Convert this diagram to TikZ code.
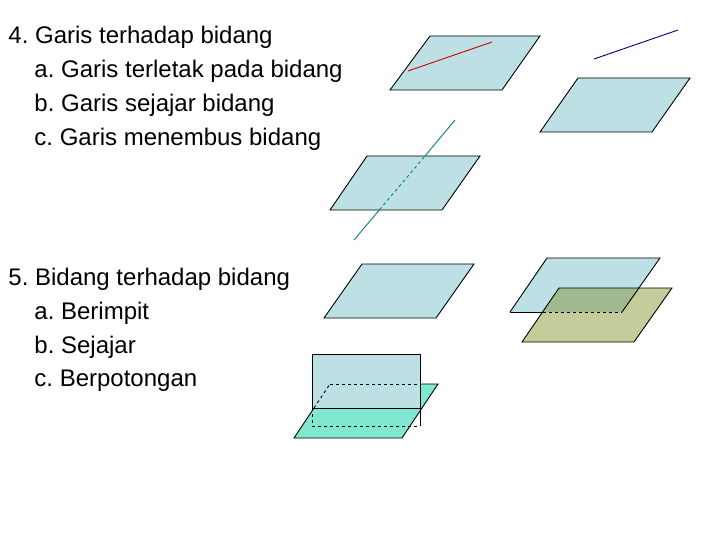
\documentclass[tikz,border=0pt]{standalone}
\usepackage{fontspec}
\setmainfont{Liberation Sans}
\usetikzlibrary{positioning}
\definecolor{bidang}{HTML}{BCE0E4}
\definecolor{zaitun}{HTML}{C4CC9C}
\definecolor{irisan}{HTML}{A0BA90}
\definecolor{toska}{HTML}{80E8D0}
\tikzset{plane/.style={draw,fill=bidang},
         item/.style={anchor=west,font=\fontsize{24}{28}\selectfont\frenchspacing,inner sep=0pt}
}
\begin{document}
\begin{tikzpicture}[x=1pt,y=-1pt,line width=0.9pt]
\useasboundingbox (0,0) rectangle (720,540);

% teks
\node[item] (judula) at (8,37) {4. Garis terhadap bidang};
\node[item] (a1) at (34,71) {a. Garis terletak pada bidang};
\node[item] (b1) at (34,105) {b. Garis sejajar bidang};
\node[item] (c1) at (34,139) {c. Garis menembus bidang};
\node[item] (judulb) at (8,279) {5. Bidang terhadap bidang};
\node[item] (a2) at (34,313) {a. Berimpit};
\node[item] (b2) at (34,347) {b. Sejajar};
\node[item] (c2) at (34,381) {c. Berpotongan};

% garis pada bidang
\draw[plane] (390,90)--(430,36)--(540,36)--(502,90)--cycle;
\draw[red!80!black] (408,71)--(492,42);
% garis sejajar bidang
\draw[plane] (540,132)--(578,78)--(690,78)--(652,132)--cycle;
\draw[blue!50!black] (594,59)--(678,30);
% garis menembus bidang
\draw[plane] (330,210)--(367,156)--(480,156)--(442,210)--cycle;
\draw[teal] (354,240)--(379.6,209.6);
\draw[teal,dashed] (379.6,209.6)--(425,156);
\draw[teal] (425,156)--(455,120);

% berimpit
\draw[plane] (324,318)--(362,264)--(474,264)--(436,318)--cycle;
% sejajar
\draw[plane] (510,312)--(547,258)--(660,258)--(622,312);
\fill[zaitun] (522,342)--(559,288)--(672,288)--(634,342)--cycle;
\fill[irisan] (543,312)--(559,288)--(639,288)--(622,312)--cycle;
\draw (639,288)--(622,312);
\draw (522,342)--(559,288)--(672,288)--(634,342)--cycle;
\draw (543,312)--(510,312);
\draw[dashed] (543,312)--(622,312);
% berpotongan
\fill[toska] (294,438)--(330,384)--(438,384)--(402,438)--cycle;
\fill[bidang] (312,354) rectangle (420,408);
\draw (312,408)--(312,354)--(420,354)--(420,426);
\draw (312,408)--(420,408);
\draw[dashed] (312,408)--(312,426)--(420,426);
\draw[dashed] (330,384)--(420,384);
\draw (420,384)--(438,384)--(402,438)--(294,438)--(314,408);
\draw[dashed] (314,408)--(330,384);
\end{tikzpicture}
\end{document}
